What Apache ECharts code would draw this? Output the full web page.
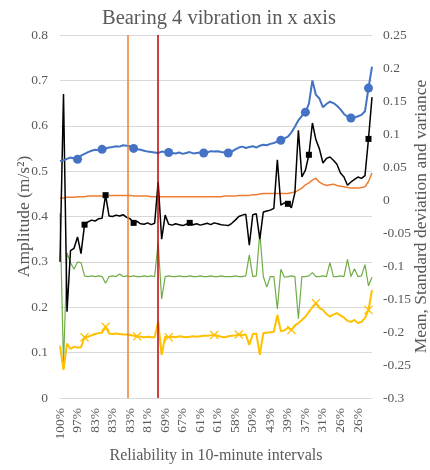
<!DOCTYPE html>
<html>
<head>
<meta charset="utf-8">
<script src="https://cdn.jsdelivr.net/npm/echarts@6/dist/echarts.min.js"></script>
<style>
  html, body { margin: 0; padding: 0; background: #fff; }
  #chart { width: 430px; height: 470px; }
</style>
</head>
<body>
<div id="chart"></div>
<script>

const tickLabels = ['100%', '97%', '83%', '83%', '83%', '81%', '69%', '67%', '61%',
  '61%', '58%', '50%', '43%', '39%', '37%', '31%', '26%', '26%'];

// left axis, m/s²
const blue = [0.522, 0.524, 0.527, 0.530, 0.528, 0.526, 0.534, 0.538, 0.542, 0.545,
  0.547, 0.546, 0.548, 0.550, 0.552, 0.553, 0.555, 0.554, 0.557, 0.556,
  0.555, 0.550, 0.548, 0.547, 0.545, 0.543, 0.542, 0.541, 0.540, 0.543,
  0.542, 0.541, 0.540, 0.539, 0.541, 0.538, 0.540, 0.542, 0.539, 0.540,
  0.541, 0.540, 0.541, 0.544, 0.543, 0.544, 0.542, 0.541, 0.540, 0.543,
  0.548, 0.552, 0.554, 0.551, 0.553, 0.555, 0.552, 0.556, 0.558, 0.557,
  0.560, 0.562, 0.565, 0.568, 0.572, 0.576, 0.585, 0.598, 0.612, 0.622,
  0.630, 0.648, 0.700, 0.668, 0.660, 0.641, 0.648, 0.653, 0.650, 0.644,
  0.636, 0.626, 0.620, 0.617, 0.618, 0.621, 0.624, 0.632, 0.683, 0.730];

const black = [0.300, 0.670, 0.190, 0.325, 0.330, 0.355, 0.318, 0.382, 0.388, 0.392,
  0.390, 0.395, 0.396, 0.447, 0.401, 0.400, 0.403, 0.401, 0.404, 0.398,
  0.395, 0.386, 0.389, 0.384, 0.383, 0.386, 0.382, 0.385, 0.476, 0.350,
  0.403, 0.383, 0.381, 0.384, 0.382, 0.380, 0.383, 0.386, 0.382, 0.384,
  0.381, 0.383, 0.385, 0.382, 0.386, 0.384, 0.382, 0.381, 0.380, 0.385,
  0.392, 0.400, 0.403, 0.405, 0.337, 0.404, 0.406, 0.350, 0.410, 0.412,
  0.414, 0.418, 0.525, 0.425, 0.430, 0.428, 0.419, 0.452, 0.590, 0.487,
  0.502, 0.536, 0.606, 0.569, 0.549, 0.518, 0.528, 0.531, 0.524, 0.515,
  0.496, 0.487, 0.469, 0.476, 0.482, 0.487, 0.484, 0.490, 0.571, 0.663];

const yellow = [0.115, 0.062, 0.120, 0.108, 0.113, 0.111, 0.112, 0.134, 0.135, 0.138,
  0.141, 0.143, 0.144, 0.157, 0.142, 0.141, 0.142, 0.141, 0.140, 0.140,
  0.139, 0.137, 0.136, 0.135, 0.134, 0.135, 0.134, 0.134, 0.168, 0.095,
  0.135, 0.134, 0.135, 0.134, 0.136, 0.135, 0.134, 0.135, 0.136, 0.135,
  0.136, 0.137, 0.137, 0.138, 0.139, 0.137, 0.135, 0.134, 0.136, 0.137,
  0.138, 0.140, 0.139, 0.140, 0.117, 0.141, 0.142, 0.095, 0.143, 0.144,
  0.145, 0.146, 0.183, 0.147, 0.149, 0.155, 0.150, 0.160, 0.165, 0.172,
  0.179, 0.190, 0.200, 0.209, 0.198, 0.194, 0.185, 0.179, 0.184, 0.187,
  0.182, 0.177, 0.170, 0.168, 0.172, 0.165, 0.168, 0.176, 0.194, 0.238];

// right axis
const orange = [0.003, 0.003, 0.004, 0.004, 0.004, 0.005, 0.005, 0.005, 0.006, 0.006,
  0.006, 0.006, 0.006, 0.007, 0.007, 0.007, 0.007, 0.007, 0.007, 0.007,
  0.007, 0.006, 0.006, 0.006, 0.006, 0.006, 0.005, 0.005, 0.005, 0.005,
  0.005, 0.005, 0.005, 0.005, 0.005, 0.005, 0.005, 0.005, 0.005, 0.005,
  0.005, 0.005, 0.005, 0.005, 0.005, 0.005, 0.005, 0.006, 0.006, 0.006,
  0.006, 0.007, 0.007, 0.007, 0.007, 0.008, 0.008, 0.009, 0.010, 0.010,
  0.010, 0.010, 0.010, 0.010, 0.010, 0.010, 0.011, 0.012, 0.015, 0.018,
  0.023, 0.026, 0.030, 0.033, 0.027, 0.024, 0.022, 0.023, 0.024, 0.022,
  0.021, 0.020, 0.019, 0.018, 0.018, 0.018, 0.019, 0.020, 0.028, 0.041];

const green = [-0.020, -0.250, -0.080, -0.095, -0.105, -0.094, -0.095, -0.115, -0.116, -0.115,
  -0.116, -0.115, -0.116, -0.126, -0.116, -0.115, -0.116, -0.112, -0.116, -0.115,
  -0.116, -0.115, -0.116, -0.116, -0.115, -0.116, -0.115, -0.116, -0.065, -0.150,
  -0.116, -0.115, -0.116, -0.116, -0.115, -0.116, -0.116, -0.115, -0.116, -0.116,
  -0.115, -0.116, -0.116, -0.115, -0.116, -0.116, -0.115, -0.116, -0.116, -0.116,
  -0.115, -0.116, -0.116, -0.115, -0.083, -0.116, -0.115, -0.050, -0.116, -0.132,
  -0.116, -0.116, -0.165, -0.105, -0.117, -0.116, -0.115, -0.116, -0.180, -0.116,
  -0.116, -0.115, -0.110, -0.116, -0.116, -0.115, -0.116, -0.095, -0.116, -0.116,
  -0.115, -0.116, -0.090, -0.116, -0.104, -0.116, -0.115, -0.098, -0.130, -0.117];

// which samples carry a marker in the original
const blueMarks = [5, 12, 21, 31, 41, 48, 63, 70, 83, 88];
const blackMarks = [7, 13, 21, 37, 65, 71, 88];
const yellowMarks = [7, 13, 22, 31, 44, 51, 66, 73, 88];

// the two vertical threshold lines, in sample units
const vLines = [19.3, 27.9];

const FONT = "'Liberation Serif', 'Times New Roman', serif";
const GREY = '#595959';
const CROSS = 'path://M0,1L1,0L5,4L9,0L10,1L6,5L10,9L9,10L5,6L1,10L0,9L4,5Z';

const xy = (arr) => arr.map((v, i) => [i, v]);
const sizeAt = (marks, s) => (v, p) => marks.includes(p.dataIndex) ? s : 0;

const chart = echarts.init(document.getElementById('chart'));

chart.setOption({
  animation: false,
  title: {
    text: 'Bearing 4 vibration in x axis',
    left: 97, top: 3,
    textStyle: { fontFamily: FONT, fontSize: 20.5, fontWeight: 'normal', color: GREY },
  },
  grid: { left: 60, right: 58, top: 35, bottom: 72, outerBoundsMode: 'none' },
  xAxis: {
    type: 'value', min: 0, max: 89, interval: 5,
    name: 'Reliability in 10-minute intervals',
    nameLocation: 'middle', nameGap: 48,
    nameTextStyle: { fontFamily: FONT, fontSize: 16, color: GREY },
    axisLine: { lineStyle: { color: '#d9d9d9' } },
    axisTick: { show: false },
    splitLine: { show: false },
    axisLabel: {
      rotate: 90, margin: 10,
      fontFamily: FONT, fontSize: 13.5, color: GREY,
      formatter: (v) => tickLabels[v / 5] || '',
    },
  },
  yAxis: [
    {
      type: 'value', min: 0, max: 0.8, interval: 0.1,
      name: 'Amplitude (m/s²)',
      nameLocation: 'middle', nameGap: 27, nameMoveOverlap: false,
      nameTextStyle: { fontFamily: FONT, fontSize: 17.5, color: GREY },
      axisLine: { show: false },
      axisTick: { show: false },
      splitLine: { lineStyle: { color: '#d9d9d9' } },
      axisLabel: { margin: 12, fontFamily: FONT, fontSize: 13.5, color: GREY },
    },
    {
      type: 'value', min: -0.3, max: 0.25, interval: 0.05,
      name: 'Mean, Standard deviation and variance',
      nameLocation: 'middle', nameGap: 40, nameMoveOverlap: false,
      nameTextStyle: { fontFamily: FONT, fontSize: 17.5, color: GREY },
      axisLine: { show: false },
      axisTick: { show: false },
      splitLine: { show: false },
      axisLabel: { margin: 11, fontFamily: FONT, fontSize: 13.5, color: GREY },
    },
  ],
  series: [
    {
      name: 'Variance', type: 'line', yAxisIndex: 1, data: xy(orange),
      symbol: 'none', lineStyle: { color: '#ED7D31', width: 1.5 },
    },
    {
      name: 'Mean', type: 'line', yAxisIndex: 1, data: xy(green),
      symbol: 'none', lineStyle: { color: '#70AD47', width: 1.2 },
    },
    {
      name: 'Std', type: 'line', data: xy(yellow),
      symbol: CROSS, symbolSize: sizeAt(yellowMarks, 9), showAllSymbol: true,
      itemStyle: { color: '#FFC000' },
      lineStyle: { color: '#FFC000', width: 2 },
    },
    {
      name: 'RMS', type: 'line', data: xy(black),
      symbol: 'rect', symbolSize: sizeAt(blackMarks, 6), showAllSymbol: true,
      itemStyle: { color: '#000' },
      lineStyle: { color: '#000', width: 1.5 },
    },
    {
      name: 'Peak', type: 'line', data: xy(blue),
      symbol: 'circle', symbolSize: sizeAt(blueMarks, 9), showAllSymbol: true,
      itemStyle: { color: '#4472C4' },
      lineStyle: { color: '#4472C4', width: 2 },
      markLine: {
        silent: true, symbol: 'none', label: { show: false },
        data: [
          { xAxis: vLines[0], lineStyle: { color: '#ED7D31', width: 1.5, type: 'solid' } },
          { xAxis: vLines[1], lineStyle: { color: '#C00000', width: 1.5, type: 'solid' } },
        ],
      },
    },
  ],
});
</script>
</body>
</html>
